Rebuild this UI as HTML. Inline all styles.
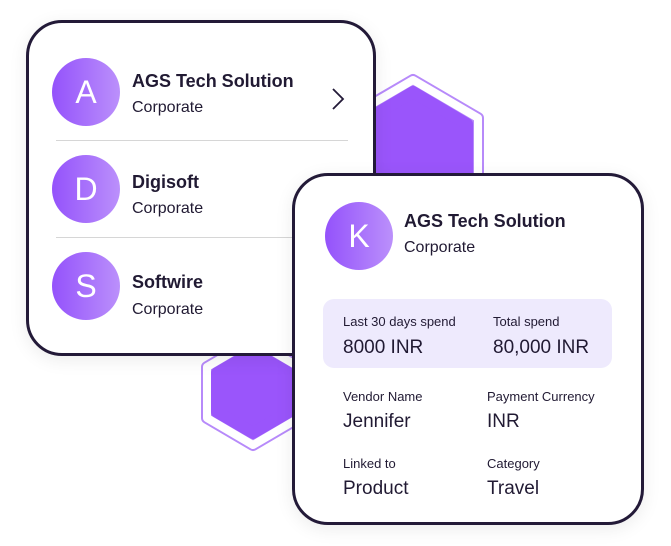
<!DOCTYPE html>
<html><head><style>
body{margin:0;width:671px;height:546px;background:#fff;position:relative;overflow:hidden;font-family:"Liberation Sans",sans-serif;color:#211a33}
.card{position:absolute;background:#fff;border:3px solid #231a38;border-radius:36px;box-sizing:border-box;box-shadow:0 4px 18px rgba(0,0,0,0.08)}
.av{position:absolute;width:68px;height:68px;border-radius:50%;background:linear-gradient(90deg,#9452fb,#bb90fb);color:#fff;font-size:32px;text-align:center;line-height:68px}
.t{position:absolute;font-size:18px;font-weight:bold;white-space:nowrap}
.s{position:absolute;font-size:16px;white-space:nowrap}
.hr{position:absolute;left:27px;width:292px;height:1px;background:#d6d6d6}
.l{position:absolute;font-size:13px;white-space:nowrap}
.v{position:absolute;font-size:19px;white-space:nowrap}
</style></head><body>
<svg width="671" height="546" style="position:absolute;left:0;top:0">
<g stroke-linejoin="round">
<polygon points="413,80 478,118 478,192 413,230 348,192 348,118" fill="none" stroke="#b78afa" stroke-width="12"/>
<polygon points="413,80 478,118 478,192 413,230 348,192 348,118" fill="none" stroke="#fff" stroke-width="8"/>
<polygon points="413,92 467,124 467,186 413,218 359,186 359,124" fill="#9a55fb" stroke="#9a55fb" stroke-width="12"/>
<polygon points="253,340 207,367 207,418 253,445 299,418 299,367" fill="none" stroke="#b78afa" stroke-width="12"/>
<polygon points="253,340 207,367 207,418 253,445 299,418 299,367" fill="none" stroke="#fff" stroke-width="8"/>
<polygon points="253,352 217,373 217,412 253,433 289,412 289,373" fill="#9a55fb" stroke="#9a55fb" stroke-width="12"/>
</g></svg>

<div class="card" style="left:26px;top:20px;width:350px;height:336px">
 <div class="av" style="left:23px;top:35px">A</div>
 <div class="t" style="left:103px;top:48px">AGS Tech Solution</div>
 <div class="s" style="left:103px;top:76px">Corporate</div>
 <svg style="position:absolute;left:301px;top:64px" width="16" height="24"><polyline points="3,2 13,12 3,22" fill="none" stroke="#231a38" stroke-width="1.8"/></svg>
 <div class="hr" style="top:117px"></div>
 <div class="av" style="left:23px;top:132px">D</div>
 <div class="t" style="left:103px;top:149px">Digisoft</div>
 <div class="s" style="left:103px;top:177px">Corporate</div>
 <div class="hr" style="top:214px"></div>
 <div class="av" style="left:23px;top:229px">S</div>
 <div class="t" style="left:103px;top:249px">Softwire</div>
 <div class="s" style="left:103px;top:278px">Corporate</div>
</div>

<div class="card" style="left:292px;top:173px;width:352px;height:352px">
 <div class="av" style="left:30px;top:26px">K</div>
 <div class="t" style="left:109px;top:35px">AGS Tech Solution</div>
 <div class="s" style="left:109px;top:63px">Corporate</div>
 <div style="position:absolute;left:28px;top:123px;width:289px;height:69px;background:#eeeafd;border-radius:11px"></div>
 <div class="l" style="left:48px;top:138px">Last 30 days spend</div>
 <div class="v" style="left:48px;top:161px">8000 INR</div>
 <div class="l" style="left:198px;top:138px">Total spend</div>
 <div class="v" style="left:198px;top:161px">80,000 INR</div>
 <div class="l" style="left:48px;top:213px">Vendor Name</div>
 <div class="v" style="left:48px;top:235px">Jennifer</div>
 <div class="l" style="left:192px;top:213px">Payment Currency</div>
 <div class="v" style="left:192px;top:235px">INR</div>
 <div class="l" style="left:48px;top:280px">Linked to</div>
 <div class="v" style="left:48px;top:302px">Product</div>
 <div class="l" style="left:192px;top:280px">Category</div>
 <div class="v" style="left:192px;top:302px">Travel</div>
</div>
</body></html>
